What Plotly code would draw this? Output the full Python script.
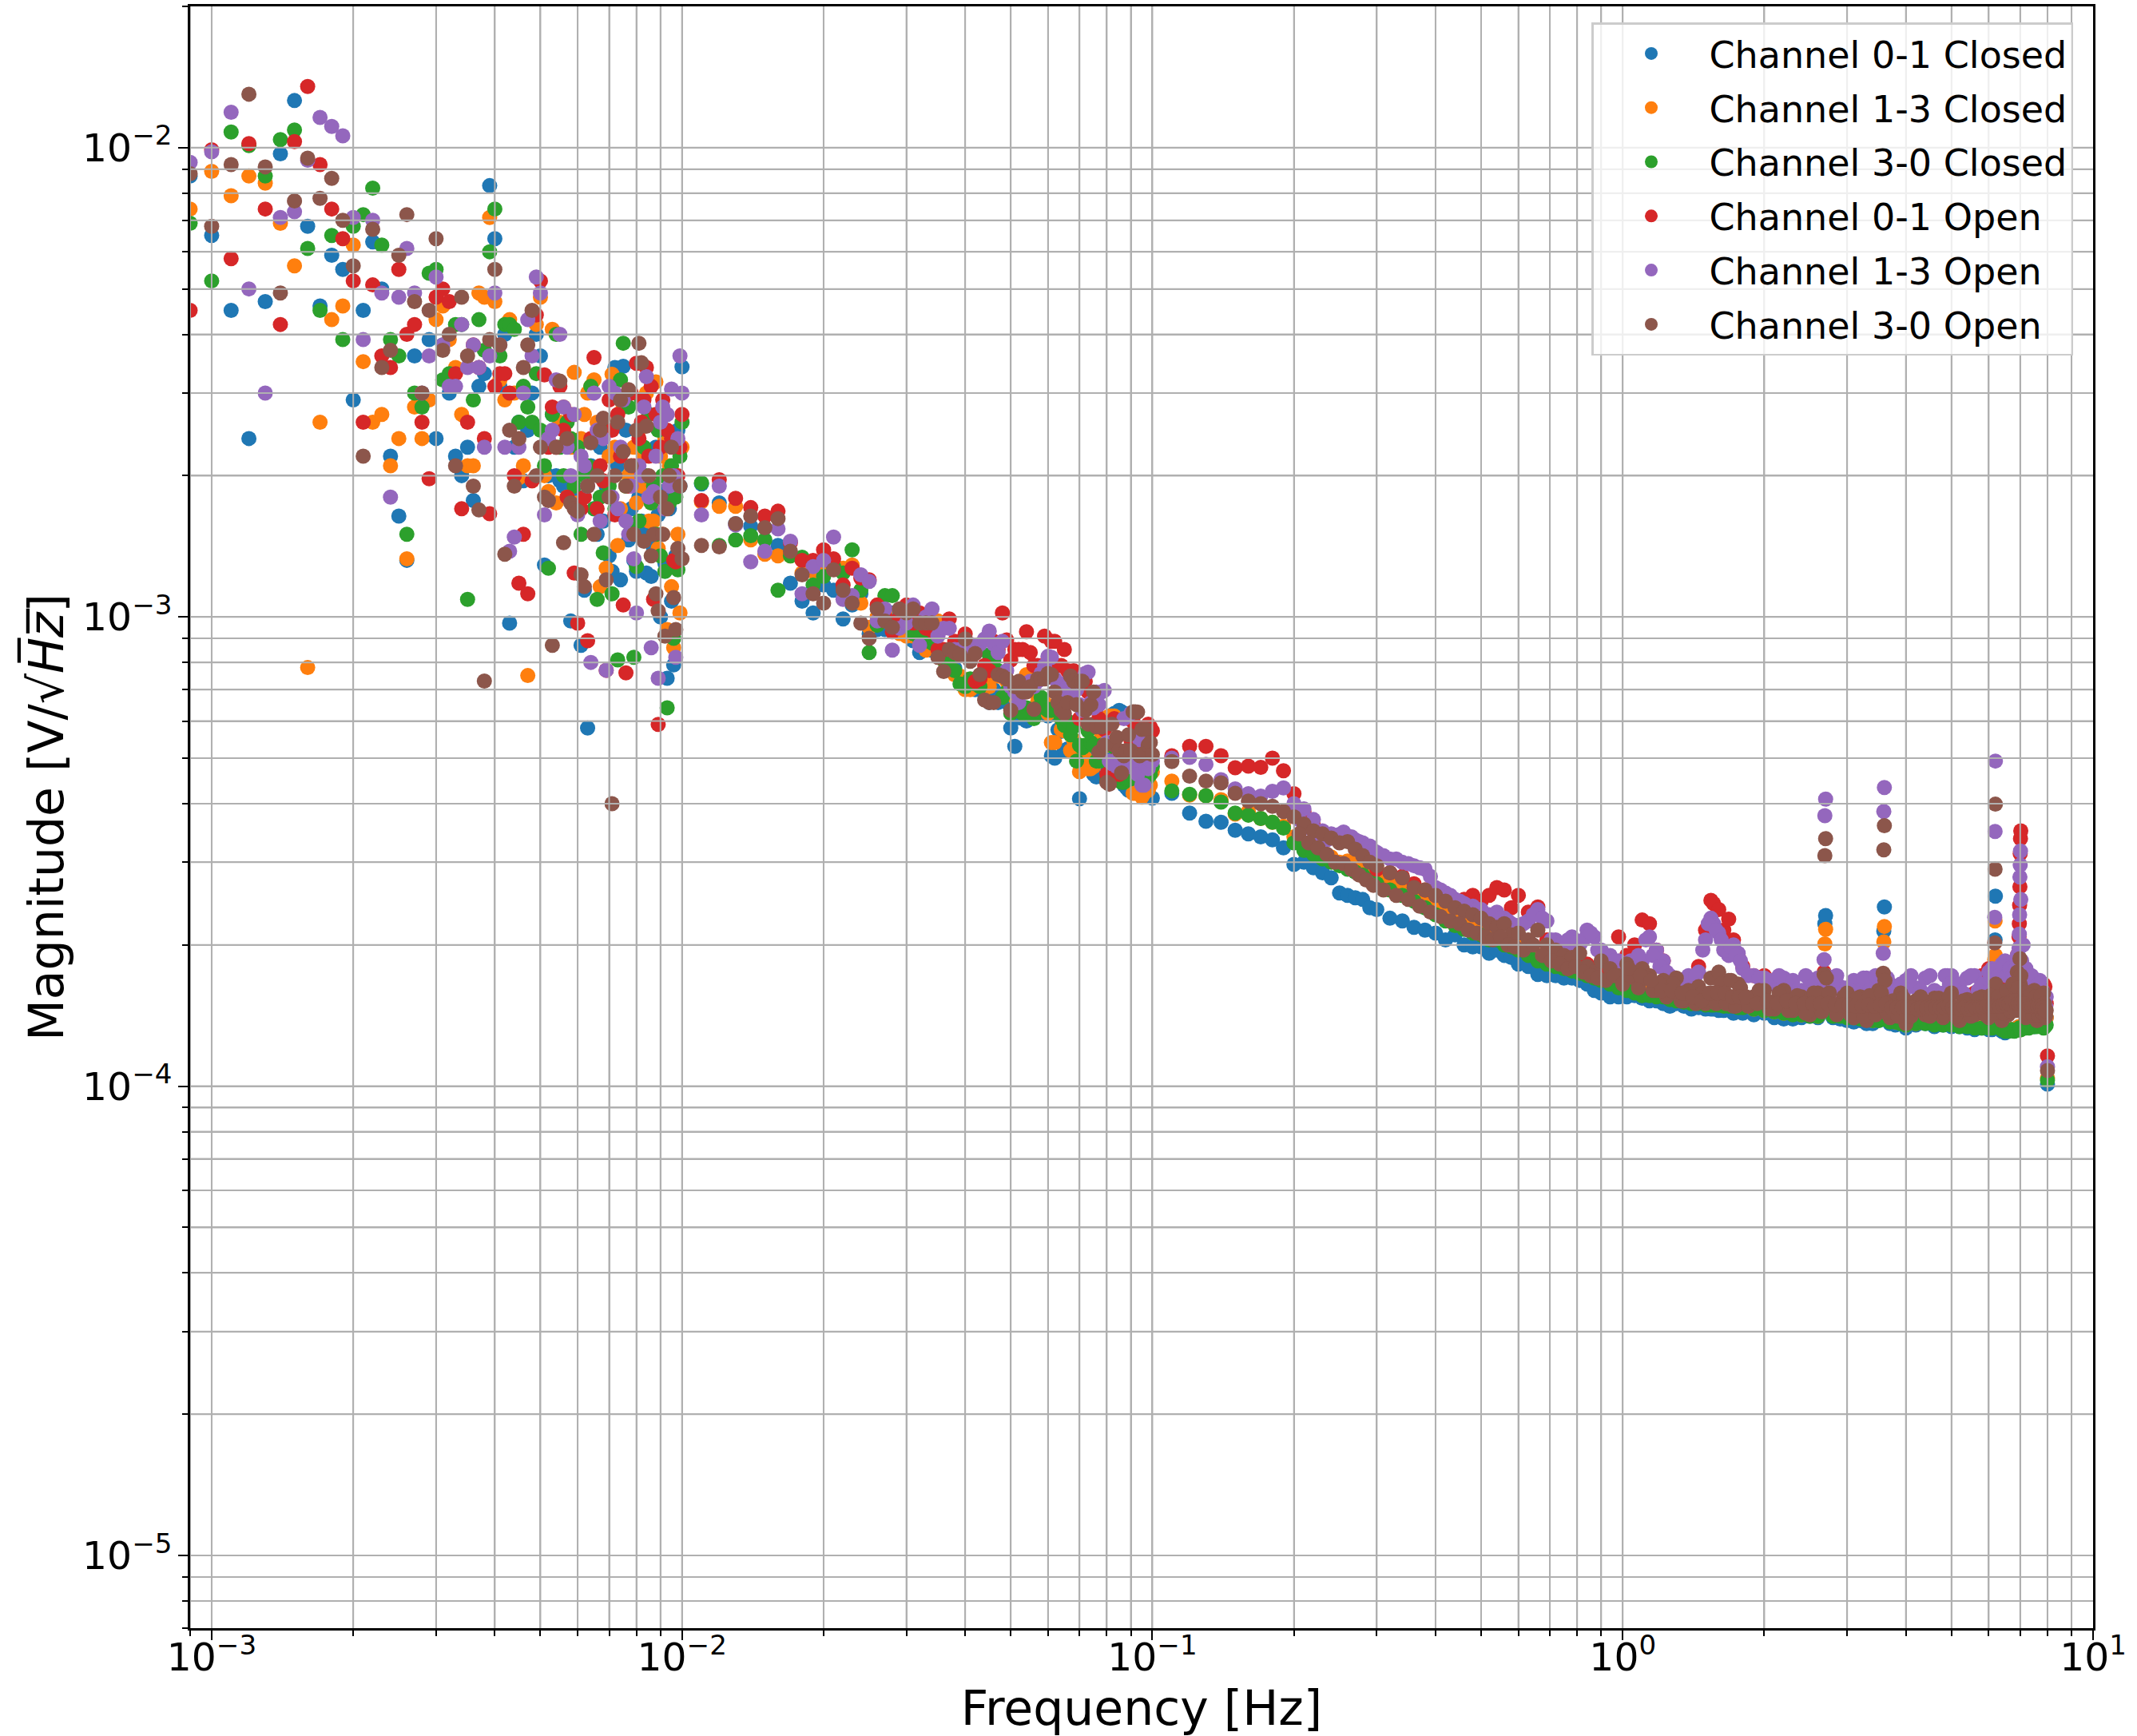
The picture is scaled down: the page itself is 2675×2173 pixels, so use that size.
import math
import plotly.graph_objects as go

# Frequency columns, Hz
f_low = [0.0009,0.0010,0.0011,0.0012,0.0013,0.0014,0.0015,0.0016,0.0017,0.0018,0.0019,0.0020,
0.0021,0.0022,0.0023,0.0024,0.0025,0.0026,0.0027,0.0028,0.0029,0.0030,0.0031,0.0032,0.0033,0.0034,0.0035,0.0036,0.0037,0.0038,0.0039,0.0040,
0.0041,0.0042,0.0043,0.0044,0.0045,0.0046,0.0047,0.0048,0.0049,0.0050,0.0051,0.0052,0.0053,0.0054,0.0055,0.0056,0.0057,0.0058,0.0059,0.0060,
0.0061,0.0062,0.0063,0.0064,0.0065,0.0066,0.0067,0.0068,0.0069,0.0070,0.0071,0.0072,0.0073,0.0074,0.0075,0.0076,0.0077,0.0078,0.0079,0.0080,
0.0081,0.0082,0.0083,0.0084,0.0085,0.0086,0.0087,0.0088,0.0089,0.0090,0.0091,0.0092,0.0093,0.0094,0.0095,0.0096,0.0097,0.0098,0.0099,0.0100]
f_mid = [0.011,0.012,0.013,0.014,0.015,0.016,0.017,0.018,0.019,0.020,0.021,0.022,0.023,0.024,0.025,0.026,0.027,0.028,0.029,0.030,
0.031,0.032,0.033,0.034,0.035,0.036,0.037,0.038,0.039,0.040,0.041,0.042,0.043,0.044,0.045,0.046,0.047,0.048,0.049,0.050,
0.051,0.052,0.053,0.054,0.055,0.056,0.057,0.058,0.059,0.060,0.061,0.062,0.063,0.064,0.065,0.066,0.067,0.068,0.069,0.070,
0.071,0.072,0.073,0.074,0.075,0.076,0.077,0.078,0.079,0.080,0.081,0.082,0.083,0.084,0.085,0.086,0.087,0.088,0.089,0.090,
0.091,0.092,0.093,0.094,0.095,0.096,0.097,0.098,0.099,0.100]
f_high = [.11,.12,.13,.14,.15,.16,.17,.18,.19,.20,
.21,.22,.23,.24,.25,.26,.27,.28,.29,.30,
.32,.34,.36,.38,.40,.42,.44,.46,.48,.50,
.52,.54,.56,.58,.60,.63,.66,.69,.72,.75,
.78,.81,.84,.87,.90,.94,.98,1.02,1.06,1.10,
1.14,1.18,1.22,1.26,1.30,1.35,1.40,1.45,1.50,1.54,
1.56,1.60,1.64,1.68,1.72,1.76,1.80,1.90,2.00,2.10,
2.20,2.30,2.40,2.50,2.60,2.68,2.69,2.70,2.71,2.80,
2.90,3.00,3.10,3.20,3.30,3.40,3.50,3.58,3.59,3.60,
3.61,3.70,3.80,3.90,4.00,4.20,4.40,4.60,4.80,4.90,
5.00,5.20,5.40,5.60,5.80,6.00,6.10,6.18,6.19,6.20,
6.21,6.40,6.50,6.60,6.70,6.80,6.90,6.96,6.97,6.98,
6.99,7.00,7.01,7.02,7.10,7.20,7.30,7.40,7.50,7.60,
7.70,7.80,7.85,7.90,7.95,8.00]
# Extra columns read for the two series drawn last, which fill the dense band
f_extra = [.205,.215,.225,.235,.245,.255,.265,.275,.285,.295,
.31,.33,.35,.37,.39,.41,.43,.45,.47,.49,
.51,.53,.55,.57,.59,.615,.645,.675,.705,.735,
.765,.795,.825,.855,.885,.92,.96,1.00,1.04,1.08,
1.12,1.16,1.20,1.24,1.28,1.33,1.38,1.43,1.48,1.52,
1.58,1.62,1.66,1.70,1.74,1.78,1.85,1.95,2.05,2.15,
2.25,2.35,2.45,2.55,2.65,2.75,2.85,2.95,3.05,3.15,
3.25,3.35,3.45,3.55,3.65,3.75,3.85,3.95,4.1,4.3,
4.5,4.7,4.85,4.95,5.1,5.3,5.5,5.7,5.9,6.05,
6.15,6.3,6.45,6.55,6.65,6.75,6.85,6.93,7.05,7.15,
7.25,7.35,7.45,7.55,7.65,7.75,7.82,7.88,7.93]
f_fill = [1.03,1.09,1.15,1.21,1.27,1.34,1.41,1.47,1.53,1.59,
1.65,1.71,1.77,1.83,1.93,2.03,2.13,2.23,2.33,2.43,
2.53,2.63,2.73,2.83,2.93,3.03,3.13,3.23,3.33,3.43,
3.53,3.63,3.73,3.83,3.93,4.03,4.13,4.23,4.33,4.43,
4.53,4.63,4.73,4.83,4.93,5.03,5.13,5.23,5.33,5.43,
5.53,5.63,5.73,5.83,5.93,6.03,6.13,6.23,6.33,6.43,
6.53,6.63,6.73,6.83,6.93,7.03,7.13,7.23,7.33,7.43,
7.53,7.63,7.73,7.83,7.91]

# Magnitudes in microvolts per root hertz
ch01_closed_low = [8700,6500,4500,2400,4700,9700,12600,6800,4600,5900,5500,2900,4500,6300,5000,2200,1640,1320,3600,2900,3900,2400,3800,3000,2200,2000,2300,1770,3100,3300,8300,6400,
3100,4000,970,2300,2600,1950,2500,3000,4000,3600,1290,2000,2700,2000,1950,1900,2400,980,2300,1800,
870,1140,580,2100,1700,1500,2300,1600,1900,1350,1250,3400,2100,1200,3420,2500,1460,1700,1320,1250,
1800,1600,1500,1240,1900,1220,1400,2300,1650,1000,1850,1300,740,1700,1080,790,1350,2500,1900,3410]
ch13_closed_low = [7400,8900,7900,8700,8400,6900,5600,780,2600,4300,4600,6200,3500,2600,2700,2100,2400,1330,2800,2400,2900,4300,4600,3900,3400,2700,2100,2100,4900,4800,7100,4700,
3200,2900,4300,3000,1980,2100,750,1950,4200,4800,2000,1850,4100,1750,2600,2800,1800,2300,3320,1750,
2400,2700,3000,3100,3200,2600,1160,2500,1270,2200,3290,2300,1420,1700,2800,1900,2000,2100,2300,1750,
2500,1900,2200,3000,1600,1750,1600,3170,1400,2200,1500,2400,940,2100,1160,860,1950,1500,1020,2300]
ch30_closed_low = [6900,5200,10800,10100,8700,10400,10900,6100,4500,6500,3900,6800,7200,8200,6200,3900,3600,1500,3000,2800,5400,5500,3200,3300,4200,4200,1090,2900,4300,3700,6000,7400,
3600,4200,4200,4100,2600,3100,2800,2600,3300,2500,2100,1270,2700,4000,2300,2000,2600,2400,1900,2300,
1500,2000,2100,3100,1700,1090,1800,1370,2500,1900,1120,1700,810,3200,3830,1900,2800,1550,820,1280,
1600,2900,2300,2000,2700,1750,1900,1500,2500,1350,2000,1250,640,1750,2100,900,1800,1260,2200,2600]
ch01_open_low = [4500,9900,5800,10200,7400,4200,10300,13500,9200,7400,6400,5200,2600,5100,3600,3400,5500,4000,4200,2600,1970,4800,5000,4700,3300,1700,2600,3800,3400,2400,1660,3100,
3300,3300,3000,2000,1180,1500,1120,1950,4400,5200,3280,2300,2800,2300,3100,2500,1800,2700,1240,970,
1700,1800,890,2400,3570,1700,2100,1950,770,2900,2500,1650,2700,2200,1060,760,1900,3000,2100,3470,
2400,2600,2900,3400,2200,3100,1090,2700,590,2300,2900,1700,2500,2000,2400,1320,1310,2000,2300,2700]
ch13_open_low = [9300,9800,11900,5000,3000,7100,7300,9400,11600,11100,10600,7100,3900,7000,4900,1800,4800,6100,4900,3000,3600,5300,3800,3100,3100,4200,3400,3800,3400,2300,3600,4900,
3800,2300,1380,1480,2300,3000,4300,3600,5300,4900,1650,2400,2500,3200,4000,2800,2300,2000,2700,1650,
2200,2100,1900,800,3000,2500,1600,2400,770,3100,1800,3000,1700,2300,2900,1600,1500,1900,1330,1020,
2100,2000,2800,3250,1800,860,1850,2200,740,2600,2800,1700,2700,1900,3060,2000,820,2400,3600,3000]
ch30_open_low = [8800,6800,9200,13000,9100,4900,7700,9500,7800,8600,7000,5600,2200,6700,3400,3700,5900,7200,4700,3000,4500,6400,3700,4000,2100,4800,3600,1900,1690,730,3900,5500,
3800,1360,2500,1900,2400,3400,3800,4500,2000,2300,1800,1770,870,2300,3180,1440,2400,1750,1700,1680,
1230,1160,1900,2350,1500,2000,2500,2650,1200,1800,400,2000,2600,2900,2250,1900,3050,2100,1500,2500,
3830,3480,1450,2550,2000,1350,1500,1120,1030,1800,1500,910,1700,2000,2300,1100,940,1400,1900,1330]

ch01_closed_mid = [1920,1750,1580,1560,1550,1420,1180,1080,1020,1170,1140,990,1060,1120,920,940,940,1020,970,970,
890,840,870,850,830,830,788,778,738,710,710,700,700,692,657,700,657,665,657,580,
530,610,607,600,623,623,623,632,640,615,506,500,575,570,519,523,526,519,519,410,
500,506,490,475,462,456,506,547,493,480,500,506,623,512,632,628,438,433,427,427,
468,438,427,456,427,421,427,421,413,411]
ch13_closed_mid = [1760,1720,1720,1460,1360,1350,1350,1240,1250,1280,1300,1270,1290,1070,950,1000,1020,950,922,910,
910,940,850,980,980,809,788,753,748,700,700,710,720,729,710,748,748,753,729,692,
674,640,640,753,748,692,657,650,657,623,540,540,640,576,572,586,519,547,526,468,
493,500,475,475,480,533,591,561,607,533,615,615,615,607,500,475,493,493,487,468,
421,421,438,438,413,421,468,427,438,468]
ch30_closed_mid = [1930,1420,1460,1490,1460,1140,1350,1340,1170,1220,1280,1240,1390,1140,840,960,1110,1110,990,970,
922,898,890,880,860,809,788,768,720,710,738,720,710,770,830,809,768,674,692,623,
632,650,623,640,623,607,640,674,640,632,632,640,650,607,587,600,561,583,493,533,
526,533,572,540,533,493,493,533,533,449,480,533,493,519,452,444,444,452,452,452,
456,456,462,468,468,462,462,456,462,480]
ch01_open_mid = [1770,1960,1790,1710,1640,1680,1440,1320,1320,1390,1330,1170,1270,1210,1200,1060,1000,930,997,1060,
971,1020,946,935,852,852,990,887,852,920,809,729,738,788,768,887,852,1020,893,809,
852,852,852,930,840,788,788,768,910,809,887,887,788,788,852,768,738,768,720,607,
720,729,692,640,591,640,607,598,576,462,450,493,607,468,462,500,493,480,607,547,
598,576,547,554,533,561,583,591,583,572]
ch13_open_mid = [1650,1900,1570,1310,1380,1540,1450,1120,1280,1320,1480,1090,1110,1230,1190,980,1040,850,946,971,
1060,870,1000,1040,910,946,946,852,852,840,875,845,875,898,933,875,840,887,768,710,
692,657,710,720,729,710,729,758,788,824,820,738,710,720,700,710,674,657,700,650,
632,758,763,657,640,692,650,692,697,540,493,487,493,480,506,493,607,487,480,623,
487,475,462,547,438,438,480,475,493,493]
ch30_open_mid = [1420,1410,1580,1640,1550,1620,1380,1230,1120,1070,1260,1140,1070,970,900,1040,980,950,1040,1020,
1040,971,971,971,820,765,852,840,830,898,804,836,753,665,657,657,753,748,738,632,
710,729,692,692,710,636,738,738,738,758,753,692,657,632,623,657,748,729,650,729,
729,632,591,650,692,583,515,583,533,444,440,591,533,554,519,465,506,519,561,519,
628,628,627,506,576,512,576,533,540,509]

ch01_closed_high = [421,382,367,365,351,345,340,335,322,297,
300,292,285,278,258,255,252,250,240,238,
228,225,218,215,212,205,210,200,198,198,
192,195,190,188,182,180,173,172,172,170,
170,168,165,160,158,155,155,155,156,154,
152,152,150,148,150,148,146,147,146,146,
146,145,145,147,143,145,143,142,143,140,
139,139,140,141,140,145,222,231,150,140,
139,138,137,138,136,136,138,140,214,241,
142,136,135,136,133,135,136,134,135,136,
134,134,133,132,133,132,132,136,205,254,
140,131,130,131,132,132,133,134,132,133,
132,134,133,133,134,134,135,135,134,135,
136,137,137,138,140,101]
ch13_closed_high = [447,417,416,408,380,385,372,365,358,340,
330,325,315,308,300,302,298,290,285,280,
275,265,255,250,240,235,228,222,218,215,
210,208,205,200,198,195,190,188,185,182,
180,178,175,172,170,168,166,164,162,160,
158,158,156,155,154,153,152,151,150,150,
150,150,150,150,149,148,148,146,145,144,
143,143,142,142,141,150,201,216,155,143,
142,141,140,140,139,138,139,142,203,219,
150,138,137,137,135,136,137,136,136,137,
136,135,135,134,134,134,134,186,225,190,
150,133,132,132,132,132,133,133,134,132,
133,134,132,133,134,134,135,134,135,135,
136,137,138,138,140,104]
ch30_closed_high = [426,419,416,403,382,378,372,365,355,330,
318,312,305,300,295,290,286,282,275,270,
262,255,248,240,232,225,220,216,212,210,
205,205,200,198,195,190,185,182,180,178,
176,174,172,170,168,165,162,160,158,156,
156,155,155,153,152,151,150,150,149,149,
149,149,148,148,148,147,147,146,145,144,
143,142,142,141,141,148,150,152,147,141,
141,140,140,139,139,138,138,139,141,140,
139,137,137,136,135,136,136,135,135,136,
135,134,134,133,133,133,133,134,135,136,
134,132,131,131,132,131,132,132,133,132,
133,132,133,132,133,133,133,134,134,134,
135,136,133,134,135,103]
ch01_open_high = [506,530,530,506,477,481,478,500,470,420,
385,360,345,340,335,340,325,315,305,290,
285,280,270,262,255,250,245,250,255,248,
255,265,262,240,255,235,241,205,195,200,
190,185,182,178,175,172,208,190,200,226,
222,195,185,170,162,158,160,180,215,249,
245,238,215,227,205,190,180,172,172,165,
150,148,155,160,158,175,168,160,165,150,
149,150,148,147,150,152,155,150,155,160,
152,148,146,145,145,147,148,150,146,152,
168,160,155,158,172,178,165,173,160,165,
170,175,165,160,165,170,190,208,222,243,
266,313,337,350,180,165,160,155,150,152,
160,158,165,163,150,116]
ch13_open_high = [500,502,485,450,430,420,415,425,432,400,
390,370,350,345,344,340,335,330,325,315,
305,300,295,290,265,258,250,245,242,238,
232,235,228,222,220,225,238,225,205,200,
208,200,215,208,195,190,185,175,182,185,
208,195,185,172,165,165,170,175,205,228,
222,212,195,190,200,192,178,172,170,165,
170,168,160,168,170,186,377,409,172,165,
163,162,168,160,170,165,168,192,385,433,
170,165,158,165,168,162,170,160,158,172,
172,165,170,172,165,175,178,229,349,493,
175,182,185,180,178,175,190,197,211,232,
279,296,317,250,200,178,170,172,165,162,
168,160,150,145,155,110]
ch30_open_high = [492,458,447,443,421,405,400,395,385,375,
362,350,345,338,330,332,320,310,300,295,
285,278,265,262,255,248,240,236,232,228,
222,218,222,210,212,205,215,200,195,190,
188,192,180,175,185,178,172,182,170,178,
172,160,168,158,170,152,155,163,150,170,
158,175,152,168,148,165,150,155,160,146,
160,145,155,142,158,173,310,337,170,148,
150,158,140,155,138,150,160,174,319,359,
168,140,150,158,136,152,142,154,140,148,
158,138,153,142,155,140,152,202,290,399,
165,138,158,142,160,145,175,170,148,150,
187,165,150,172,160,140,155,150,160,138,
155,142,158,140,145,108]
ch13_open_extra = [370,355,345,335,342,348,340,332,322,318,
310,305,298,292,280,262,255,248,240,238,
232,230,228,225,220,222,232,228,205,200,
205,195,205,212,195,188,185,180,185,190,
205,190,180,175,168,168,172,172,195,222,
215,205,195,198,190,185,172,170,168,172,
158,160,172,165,160,158,172,155,160,158,
170,160,172,160,170,155,160,158,172,160,
172,155,172,165,160,158,172,160,158,172,
176,172,180,172,178,172,178,190,185,170,
165,172,160,158,165,155,150,150,148]
ch30_open_extra = [345,330,322,312,300,298,290,282,275,268,
262,255,250,242,235,230,225,222,215,212,
208,205,208,200,198,195,200,190,185,182,
178,180,175,172,170,168,172,165,172,162,
170,160,165,155,165,152,160,150,158,152,
150,165,150,168,148,162,148,160,146,158,
145,156,143,158,144,158,142,155,142,154,
141,156,142,158,143,152,141,154,141,155,
141,154,142,155,141,152,141,154,142,156,
143,155,143,160,145,165,145,162,150,158,
143,156,142,155,142,156,143,150,141]
ch30_open_fill = [178,172,168,160,160,158,155,152,158,158,
158,155,155,155,150,152,150,152,150,150,
150,150,150,149,149,149,148,148,149,148,
149,150,147,147,147,147,147,146,147,147,
147,147,147,147,148,147,147,146,147,146,
147,147,147,147,148,148,148,148,148,149,
150,150,152,152,150,150,150,148,148,148,
148,148,148,147,145]

labels = ["Channel 0-1 Closed","Channel 1-3 Closed","Channel 3-0 Closed",
          "Channel 0-1 Open","Channel 1-3 Open","Channel 3-0 Open"]
colors = ["#1f77b4","#ff7f0e","#2ca02c","#d62728","#9467bd","#8c564b"]
series = [(ch01_closed_low,ch01_closed_mid,ch01_closed_high,[],[]),
          (ch13_closed_low,ch13_closed_mid,ch13_closed_high,[],[]),
          (ch30_closed_low,ch30_closed_mid,ch30_closed_high,[],[]),
          (ch01_open_low,ch01_open_mid,ch01_open_high,[],[]),
          (ch13_open_low,ch13_open_mid,ch13_open_high,ch13_open_extra,[]),
          (ch30_open_low,ch30_open_mid,ch30_open_high,ch30_open_extra,ch30_open_fill)]

W, H = 2675, 2173
L, R, T, B = 238, 2620, 8, 2038
XMIN, XMAX, YMIN, YMAX = 9e-4, 10, 7e-6, 2e-2
FONT = "DejaVu Sans"
GRID = "#b0b0b0"

fig = go.Figure()
for name, color, parts in zip(labels, colors, series):
    assert len(parts[0]) == len(f_low), (name, len(parts[0]))
    assert len(parts[1]) == len(f_mid), (name, len(parts[1]))
    assert len(parts[2]) == len(f_high), (name, len(parts[2]))
    assert len(parts[3]) in (0, len(f_extra)), (name, len(parts[3]))
    assert len(parts[4]) in (0, len(f_fill)), (name, len(parts[4]))
    vals = parts[0] + parts[1] + parts[2] + parts[3] + parts[4]
    freqs = f_low + f_mid + f_high + (f_extra if parts[3] else []) + (f_fill if parts[4] else [])
    fig.add_trace(go.Scatter(x=freqs, y=[v * 1e-6 for v in vals], mode="markers", name=name,
                             legendgroup=name,
                             marker=dict(color=color, size=19, line=dict(width=0))))

# The reference draws its grid over the points, so repeat the grid above the traces.
shapes = []
for d in range(-6, 2):
    for m in range(1, 10):
        v = m * 10.0 ** d
        ln = dict(color=GRID, width=2)
        if XMIN < v < XMAX * 0.99:
            shapes.append(dict(type="line", xref="x", yref="paper", x0=v, x1=v, y0=0, y1=1, layer="above", line=ln))
        if YMIN < v < YMAX * 0.99:
            shapes.append(dict(type="line", xref="paper", yref="y", x0=0, x1=1, y0=v, y1=v, layer="above", line=ln))

axis = dict(type="log", dtick=1, exponentformat="power", showexponent="all", automargin=False,
            showgrid=True, gridcolor=GRID, gridwidth=2, zeroline=False,
            showline=True, mirror=True, linecolor="black", linewidth=2.5,
            ticks="outside", ticklen=12, tickwidth=2, tickcolor="black",
            tickfont=dict(family=FONT, size=39, color="black"),
            labelalias={"1": "10<sup>0</sup>", "10": "10<sup>1</sup>"},
            minor=dict(dtick="D1", ticks="outside", ticklen=7, tickwidth=1.5, tickcolor="black",
                       showgrid=True, gridcolor=GRID, gridwidth=2))

fig.update_layout(
    width=W, height=H, paper_bgcolor="white", plot_bgcolor="white",
    margin=dict(l=L, r=W - R, t=T, b=H - B, pad=0, autoexpand=False),
    font=dict(family=FONT, color="black"),
    shapes=shapes,
    xaxis=dict(axis, range=[math.log10(XMIN), math.log10(XMAX)], ticklabelstandoff=-18,
               title=dict(text="Frequency [Hz]", font=dict(family=FONT, size=60, color="black"), standoff=20)),
    yaxis=dict(axis, range=[math.log10(YMIN), math.log10(YMAX)],
               title=dict(text="Magnitude [V/√<i>H\u0305z\u0305</i>]", font=dict(family=FONT, size=60, color="black"), standoff=5)),
    legend=dict(x=(2595 - L) / (R - L), xanchor="right", y=1 - (28 - T) / (B - T), yanchor="top",
                bgcolor="rgba(255,255,255,0.8)", bordercolor="#cccccc", borderwidth=2.5,
                font=dict(family=FONT, size=46, color="black"),
                itemwidth=135, tracegroupgap=5, itemsizing="trace",
                entrywidth=462, entrywidthmode="pixels"),
)
fig.write_html("out.html", post_script="document.body.style.margin='0';",
               config={"displayModeBar": False})
